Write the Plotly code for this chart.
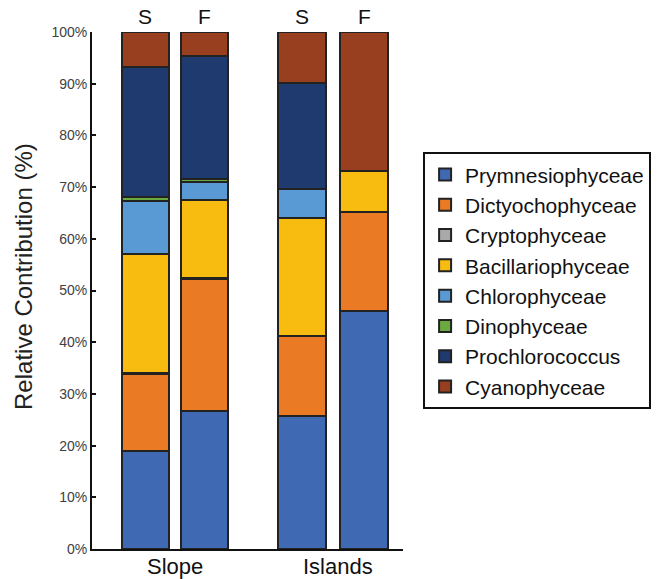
import plotly.graph_objects as go

# Samples: two depths (S, F) at two regions (Slope, Islands)
samples = ["Slope S", "Slope F", "Islands S", "Islands F"]
depth_labels = ["S", "F", "S", "F"]
positions = [0.0, 1.0, 2.66, 3.71]
regions = ["Slope", "Islands"]
region_positions = [0.5, 3.26]

classes = [
    "Prymnesiophyceae", "Dictyochophyceae", "Cryptophyceae", "Bacillariophyceae",
    "Chlorophyceae", "Dinophyceae", "Prochlorococcus", "Cyanophyceae",
]

# Relative contribution (%) of each class per sample
prymnesiophyceae = [19.0, 26.7, 25.8, 46.1]
dictyochophyceae = [14.8, 25.6, 15.4, 19.0]
cryptophyceae = [0.2, 0.2, None, None]
bacillariophyceae = [23.0, 15.1, 22.9, 8.0]
chlorophyceae = [10.4, 3.3, 5.6, None]
dinophyceae = [0.6, 0.6, None, None]
prochlorococcus = [25.2, 23.9, 20.5, None]
cyanophyceae = [6.8, 4.6, 9.8, 26.9]

series = [prymnesiophyceae, dictyochophyceae, cryptophyceae, bacillariophyceae,
          chlorophyceae, dinophyceae, prochlorococcus, cyanophyceae]

colors = ["#3F6AB3", "#EB7A24", "#A9A9A9", "#F8BB10",
          "#5A9AD4", "#6AAA40", "#1F3A6E", "#983F1F"]

yticks = list(range(0, 101, 10))
ytick_text = [f"{v}%" for v in yticks]

FONT = "Liberation Sans, Arial, sans-serif"

fig = go.Figure()
for name, vals, col in zip(classes, series, colors):
    fig.add_trace(go.Bar(
        x=positions, y=vals, name=name, width=0.8,
        marker=dict(color=col, line=dict(color="#222222", width=2)),
    ))

# Depth labels above each bar
for xp, lab in zip(positions, depth_labels):
    fig.add_annotation(x=xp, y=1.0, xref="x", yref="paper", yanchor="bottom",
                       yshift=2, text=lab, showarrow=False,
                       font=dict(family=FONT, size=21, color="#111111"))

# Region labels below the axis
for xp, lab in zip(region_positions, regions):
    fig.add_annotation(x=xp, y=0.0, xref="x", yref="paper", yanchor="top",
                       yshift=-3, text=lab, showarrow=False,
                       font=dict(family=FONT, size=22, color="#111111"))

# Y axis title
fig.add_annotation(x=-0.222, y=0.528, xref="paper", yref="paper",
                   xanchor="center", yanchor="middle",
                   text="Relative Contribution (%)", textangle=-90,
                   showarrow=False, font=dict(family=FONT, size=24, color="#222222"))

fig.update_layout(
    barmode="stack",
    width=658, height=579,
    margin=dict(l=92, r=255, t=32, b=30, autoexpand=False),
    paper_bgcolor="white", plot_bgcolor="white",
    font=dict(family=FONT),
    showlegend=True,
    legend=dict(
        xref="container", yref="container",
        x=0.643, y=0.737, xanchor="left", yanchor="top",
        traceorder="normal",
        bordercolor="#111111", borderwidth=2, bgcolor="white",
        font=dict(family=FONT, size=21, color="#111111"),
        itemwidth=30,
    ),
    xaxis=dict(
        range=[-0.9, 4.37], showticklabels=False,
        showline=True, linecolor="#111111", linewidth=2,
        ticks="", showgrid=False, zeroline=False, automargin=False,
    ),
    yaxis=dict(
        range=[0, 100], tickvals=yticks, ticktext=ytick_text,
        showline=True, linecolor="#111111", linewidth=2,
        ticks="inside", ticklen=4, tickwidth=1.5, tickcolor="#111111",
        showgrid=False, zeroline=False, automargin=False,
        tickfont=dict(family=FONT, size=14, color="#404040"),
    ),
)

fig.write_html("out.html")
